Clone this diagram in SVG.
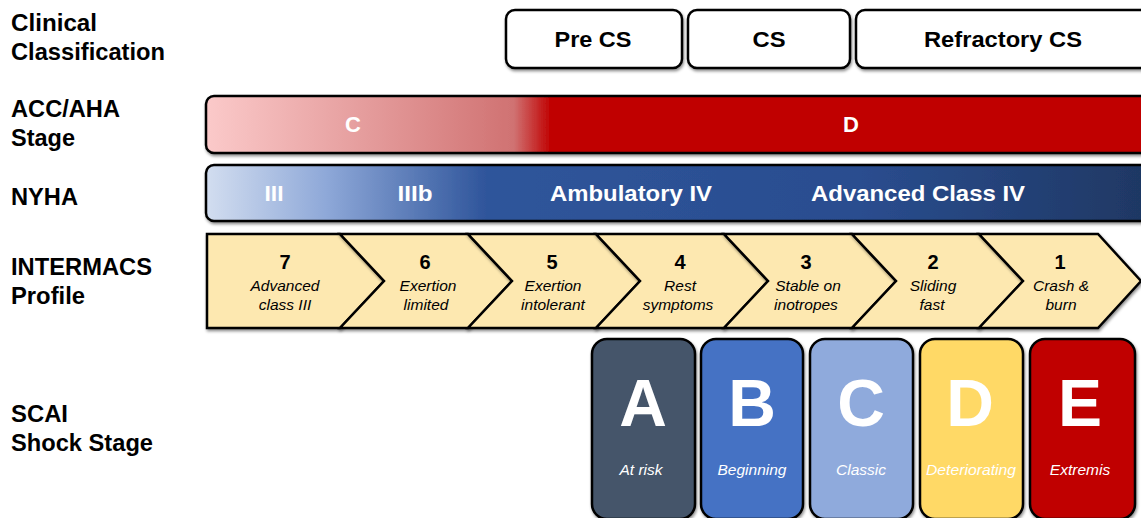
<svg xmlns="http://www.w3.org/2000/svg" width="1141" height="518" viewBox="0 0 1141 518">
<defs>
<style>
.lbl{font-family:"Liberation Sans",Arial,sans-serif;font-weight:bold;font-size:23px;fill:#000}
.cc{font-family:"Liberation Sans",Arial,sans-serif;font-weight:bold;font-size:22px;fill:#000;text-anchor:middle}
.bar{font-family:"Liberation Sans",Arial,sans-serif;font-weight:bold;font-size:22px;fill:#fff;text-anchor:middle}
.num{font-family:"Liberation Sans",Arial,sans-serif;font-weight:bold;font-size:20px;fill:#000;text-anchor:middle}
.it{font-family:"Liberation Sans",Arial,sans-serif;font-style:italic;font-size:15.5px;fill:#000;text-anchor:middle}
.big{font-family:"Liberation Sans",Arial,sans-serif;font-weight:bold;font-size:66px;fill:#fff;text-anchor:middle}
.sub{font-family:"Liberation Sans",Arial,sans-serif;font-style:italic;font-size:15.5px;fill:#fff;text-anchor:middle}
.box{stroke:#000;stroke-width:2.5}
</style>
<filter id="sh" x="-10%" y="-10%" width="120%" height="130%">
<feDropShadow dx="1" dy="2" stdDeviation="1.5" flood-color="#000" flood-opacity="0.45"/>
</filter>
<linearGradient id="gAcc" gradientUnits="userSpaceOnUse" x1="205" y1="0" x2="1141" y2="0">
<stop offset="0" stop-color="#fbcaca"/>
<stop offset="0.33" stop-color="#d07272"/>
<stop offset="0.37" stop-color="#c00000"/>
<stop offset="1" stop-color="#c00000"/>
</linearGradient>
<linearGradient id="gNyha" gradientUnits="userSpaceOnUse" x1="205" y1="0" x2="1141" y2="0">
<stop offset="0" stop-color="#d3def0"/>
<stop offset="0.13" stop-color="#8ea8d8"/>
<stop offset="0.3" stop-color="#2f559b"/>
<stop offset="0.7" stop-color="#2a4d8f"/>
<stop offset="1" stop-color="#1f3864"/>
</linearGradient>
</defs>
<rect width="1141" height="518" fill="#fff"/>

<g id="row-labels">
<text class="lbl" x="11" y="31" textLength="86" lengthAdjust="spacingAndGlyphs">Clinical</text>
<text class="lbl" x="11" y="60" textLength="154" lengthAdjust="spacingAndGlyphs">Classification</text>
<text class="lbl" x="11" y="117" textLength="109" lengthAdjust="spacingAndGlyphs">ACC/AHA</text>
<text class="lbl" x="11" y="146" textLength="64" lengthAdjust="spacingAndGlyphs">Stage</text>
<text class="lbl" x="11" y="205" textLength="67" lengthAdjust="spacingAndGlyphs">NYHA</text>
<text class="lbl" x="11" y="275" textLength="141" lengthAdjust="spacingAndGlyphs">INTERMACS</text>
<text class="lbl" x="11" y="304" textLength="74" lengthAdjust="spacingAndGlyphs">Profile</text>
<text class="lbl" x="11" y="422" textLength="57" lengthAdjust="spacingAndGlyphs">SCAI</text>
<text class="lbl" x="11" y="451" textLength="142" lengthAdjust="spacingAndGlyphs">Shock Stage</text>
</g>

<g id="clinical">
<g id="pre-cs"><rect class="box" x="506" y="10" width="176" height="58" rx="9" fill="#fff" filter="url(#sh)"/><text class="cc" x="593" y="47" textLength="77" lengthAdjust="spacingAndGlyphs">Pre CS</text></g>
<g id="cs"><rect class="box" x="688" y="10" width="162" height="58" rx="9" fill="#fff" filter="url(#sh)"/><text class="cc" x="769" y="47" textLength="33" lengthAdjust="spacingAndGlyphs">CS</text></g>
<g id="refractory-cs"><rect class="box" x="856" y="10" width="300" height="58" rx="9" fill="#fff" filter="url(#sh)"/><text class="cc" x="1003" y="47" textLength="158" lengthAdjust="spacingAndGlyphs">Refractory CS</text></g>
</g>

<g id="acc-aha">
<rect class="box" x="206" y="96" width="960" height="57" rx="8" fill="url(#gAcc)" filter="url(#sh)"/>
<text class="bar" x="353" y="132">C</text>
<text class="bar" x="851" y="132">D</text>
</g>

<g id="nyha">
<rect class="box" x="206" y="165" width="960" height="56" rx="8" fill="url(#gNyha)" filter="url(#sh)"/>
<text class="bar" x="274" y="201" textLength="19" lengthAdjust="spacingAndGlyphs">III</text>
<text class="bar" x="415" y="201" textLength="35" lengthAdjust="spacingAndGlyphs">IIIb</text>
<text class="bar" x="631" y="201" textLength="162" lengthAdjust="spacingAndGlyphs">Ambulatory IV</text>
<text class="bar" x="918" y="201" textLength="214" lengthAdjust="spacingAndGlyphs">Advanced Class IV</text>
</g>

<g id="intermacs" fill="#fde8b0" stroke="#000" stroke-width="2.5" stroke-linejoin="miter">
<g id="p7"><path d="M207,234 H340 L384,281 L340,328 H207 Z" filter="url(#sh)"/></g>
<g id="p6"><path d="M340,234 H468 L512,281 L468,328 H340 L384,281 Z" filter="url(#sh)"/></g>
<g id="p5"><path d="M468,234 H596 L640,281 L596,328 H468 L512,281 Z" filter="url(#sh)"/></g>
<g id="p4"><path d="M596,234 H724 L768,281 L724,328 H596 L640,281 Z" filter="url(#sh)"/></g>
<g id="p3"><path d="M724,234 H852 L896,281 L852,328 H724 L768,281 Z" filter="url(#sh)"/></g>
<g id="p2"><path d="M852,234 H979 L1023,281 L979,328 H852 L896,281 Z" filter="url(#sh)"/></g>
<g id="p1"><path d="M979,234 H1098 L1141,281 L1098,328 H979 L1023,281 Z" filter="url(#sh)"/></g>
</g>
<g id="intermacs-text" stroke="none">
<text class="num" x="285" y="269">7</text><text class="it" x="285" y="291">Advanced</text><text class="it" x="285" y="310">class III</text>
<text class="num" x="425" y="269">6</text><text class="it" x="428" y="291">Exertion</text><text class="it" x="426" y="310">limited</text>
<text class="num" x="552" y="269">5</text><text class="it" x="553" y="291">Exertion</text><text class="it" x="553" y="310">intolerant</text>
<text class="num" x="680" y="269">4</text><text class="it" x="680" y="291">Rest</text><text class="it" x="678" y="310">symptoms</text>
<text class="num" x="806" y="269">3</text><text class="it" x="808" y="291">Stable on</text><text class="it" x="806" y="310">inotropes</text>
<text class="num" x="933" y="269">2</text><text class="it" x="933" y="291">Sliding</text><text class="it" x="932" y="310">fast</text>
<text class="num" x="1060" y="269">1</text><text class="it" x="1061" y="291">Crash &amp;</text><text class="it" x="1061" y="310">burn</text>
</g>

<g id="scai">
<g id="scai-a"><rect class="box" x="592" y="339" width="103" height="180" rx="15" fill="#44546a" filter="url(#sh)"/><text class="big" x="643" y="426">A</text><text class="sub" x="641" y="475">At risk</text></g>
<g id="scai-b"><rect class="box" x="701" y="339" width="102" height="180" rx="15" fill="#4472c4" filter="url(#sh)"/><text class="big" x="752" y="426">B</text><text class="sub" x="752" y="475">Beginning</text></g>
<g id="scai-c"><rect class="box" x="810" y="339" width="103" height="180" rx="15" fill="#8faadc" filter="url(#sh)"/><text class="big" x="861" y="426">C</text><text class="sub" x="861" y="475">Classic</text></g>
<g id="scai-d"><rect class="box" x="920" y="339" width="103" height="180" rx="15" fill="#ffd966" filter="url(#sh)"/><text class="big" x="970" y="426">D</text><text class="sub" x="971" y="475" textLength="90" lengthAdjust="spacingAndGlyphs">Deteriorating</text></g>
<g id="scai-e"><rect class="box" x="1030" y="339" width="105" height="180" rx="15" fill="#c00000" filter="url(#sh)"/><text class="big" x="1080" y="426">E</text><text class="sub" x="1080" y="475">Extremis</text></g>
</g>
</svg>
